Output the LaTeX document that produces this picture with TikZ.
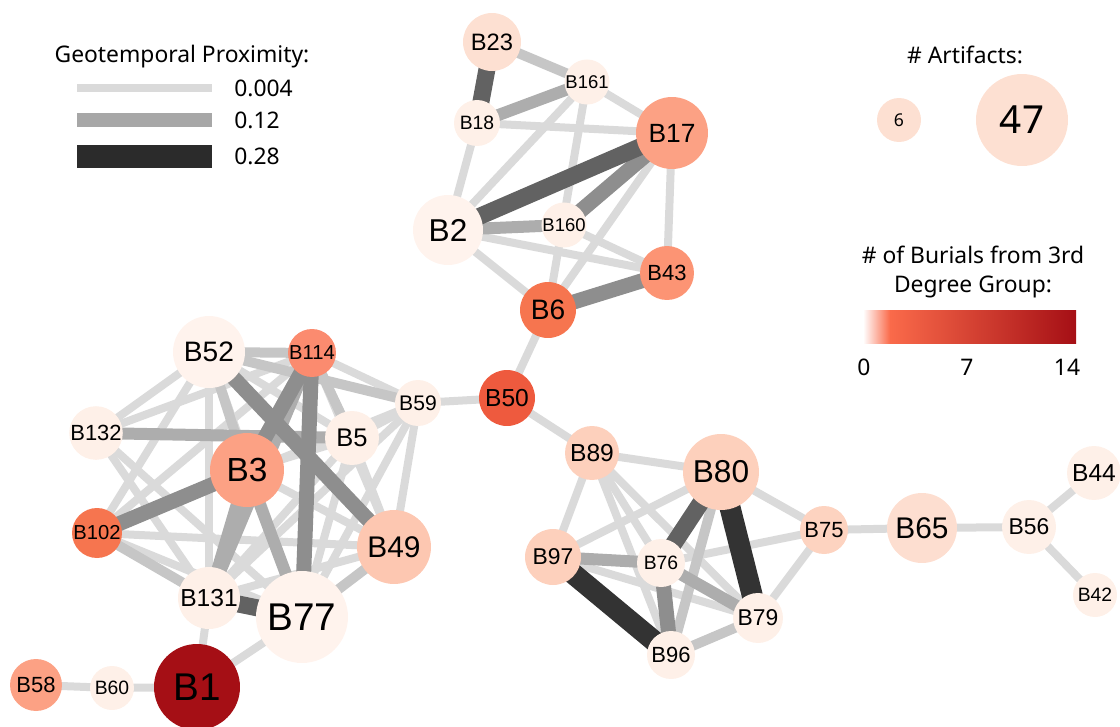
\documentclass[tikz,border=0pt]{standalone}
\usepackage{fontspec}
\setmainfont{Noto Sans}
\newfontfamily\nodefont{Liberation Sans}
\usetikzlibrary{backgrounds}
\definecolor{rA}{HTML}{FFF3ED}
\definecolor{rB}{HTML}{FEF0E8}
\definecolor{rC}{HTML}{FDE0D2}
\definecolor{rD}{HTML}{FDD0BC}
\definecolor{rE}{HTML}{FDC7B1}
\definecolor{rF}{HTML}{FCA184}
\definecolor{rG}{HTML}{FC9474}
\definecolor{rH}{HTML}{FB8B6F}
\definecolor{rI}{HTML}{F6754F}
\definecolor{rJ}{HTML}{EE5A3E}
\definecolor{rK}{HTML}{A50F15}
\definecolor{edA}{HTML}{DADADA}
\definecolor{edB}{HTML}{C6C6C6}
\definecolor{edC}{HTML}{ADADAD}
\definecolor{edD}{HTML}{8E8E8E}
\definecolor{edE}{HTML}{626262}
\definecolor{edF}{HTML}{333333}
\definecolor{gradA}{HTML}{FA6A4A}
\tikzset{
  bur/.style n args={3}{circle,inner sep=0pt,fill=#1,minimum size=#2cm,
    font=\nodefont\fontsize{#3}{#3}\selectfont},
  eA/.style={draw=edA,line width=0.16cm},
  eB/.style={draw=edB,line width=0.2cm},
  eC/.style={draw=edC,line width=0.24cm},
  eD/.style={draw=edD,line width=0.3cm},
  eE/.style={draw=edE,line width=0.34cm},
  eF/.style={draw=edF,line width=0.42cm},
  lab/.style={inner sep=0pt,font=\fontsize{13}{13}\selectfont}
}
\begin{document}
\begin{tikzpicture}[x=0.02cm,y=-0.02cm]
\useasboundingbox (0,0) rectangle (1120,727);
% top group
\node[bur={rC}{1.16}{13.5}] (B23) at (492,42) {B23};
\node[bur={rB}{0.88}{10.5}] (B161) at (587,82) {B161};
\node[bur={rB}{0.92}{11}] (B18) at (477,123) {B18};
\node[bur={rF}{1.44}{15}] (B17) at (672,133) {B17};
\node[bur={rA}{1.40}{18}] (B2) at (448,230) {B2};
\node[bur={rB}{0.88}{10.5}] (B160) at (564,225) {B160};
\node[bur={rG}{1.08}{12.5}] (B43) at (667,273) {B43};
\node[bur={rI}{1.12}{16}] (B6) at (548,310) {B6};
\node[bur={rJ}{1.12}{14}] (B50) at (507,398) {B50};
% left group
\node[bur={rA}{1.44}{16}] (B52) at (209,352) {B52};
\node[bur={rH}{0.96}{11.5}] (B114) at (312,353) {B114};
\node[bur={rB}{0.92}{12}] (B59) at (418,403) {B59};
\node[bur={rB}{1.04}{12.5}] (B132) at (96,433) {B132};
\node[bur={rB}{1.08}{14.5}] (B5) at (352,438) {B5};
\node[bur={rF}{1.48}{19}] (B3) at (247,470) {B3};
\node[bur={rI}{1.00}{11.5}] (B102) at (97,533) {B102};
\node[bur={rE}{1.48}{17}] (B49) at (394,547) {B49};
\node[bur={rB}{1.24}{14}] (B131) at (209,598) {B131};
\node[bur={rA}{1.84}{22}] (B77) at (302,617) {B77};
\node[bur={rK}{1.72}{22}] (B1) at (197,687) {B1};
\node[bur={rB}{0.88}{11}] (B60) at (112,688) {B60};
\node[bur={rF}{1.04}{12.5}] (B58) at (36,685) {B58};
% right group
\node[bur={rD}{1.08}{14}] (B89) at (592,453) {B89};
\node[bur={rD}{1.52}{18}] (B80) at (721,472) {B80};
\node[bur={rD}{1.12}{13}] (B97) at (553,557) {B97};
\node[bur={rB}{0.96}{11}] (B76) at (661,563) {B76};
\node[bur={rB}{1.00}{13}] (B79) at (758,618) {B79};
\node[bur={rB}{0.96}{12.5}] (B96) at (671,655) {B96};
\node[bur={rD!80!rC}{0.96}{12.5}] (B75) at (824,530) {B75};
\node[bur={rC!90!rD}{1.40}{17}] (B65) at (922,528) {B65};
\node[bur={rB}{1.08}{13}] (B56) at (1029,527) {B56};
\node[bur={rB}{1.08}{14}] (B44) at (1094,473) {B44};
\node[bur={rB}{0.88}{11}] (B42) at (1095,595) {B42};
%
\begin{scope}[on background layer]
\foreach \a/\b in {B18/B17,B161/B17,B161/B2,B161/B6,B18/B2,B2/B43,B160/B43,B2/B6,
  B17/B43,B17/B6,B6/B50,B52/B132,B52/B102,B52/B131,B52/B5,B52/B77,B114/B132,
  B114/B102,B114/B59,B114/B49,B132/B131,B132/B77,B102/B49,B102/B77,B102/B59,
  B3/B49,B3/B5,B5/B131,B5/B77,B5/B49,B5/B59,B59/B49,B59/B77,B59/B131,B49/B131,
  B131/B1,B77/B1,B1/B60,B60/B58,B59/B50,B50/B89,B89/B80,B89/B97,B89/B96,B89/B76,
  B89/B79,B80/B97,B80/B75,B97/B79,B75/B76,B75/B79,B75/B65,B65/B56,B56/B44,B56/B42}
  \draw[eA] (\a.center) -- (\b.center);
\foreach \a/\b in {B23/B161,B52/B3,B52/B59,B52/B114,B114/B5,B102/B131,B49/B77,
  B96/B79,B80/B96}
  \draw[eB] (\a.center) -- (\b.center);
\foreach \a/\b in {B18/B161,B2/B160,B132/B5,B3/B131,B3/B77,B114/B131,B97/B76,B76/B79}
  \draw[eC] (\a.center) -- (\b.center);
\foreach \a/\b in {B160/B17,B43/B6,B52/B49,B114/B77,B114/B3,B102/B3,B76/B96}
  \draw[eD] (\a.center) -- (\b.center);
\foreach \a/\b in {B23/B18,B2/B17,B131/B77,B80/B76}
  \draw[eE] (\a.center) -- (\b.center);
\foreach \a/\b in {B80/B79,B97/B96}
  \draw[eF] (\a.center) -- (\b.center);
\end{scope}
% legends
\node[lab,anchor=base] (ttl) at (182,62) {Geotemporal Proximity:};
\draw[draw=edA,line width=0.15cm] (77,88) -- (212,88);
\draw[draw=edC!80!edD,line width=0.28cm] (77,120) -- (212,120);
\draw[draw=edF!85!black,line width=0.46cm] (77,156) -- (212,156);
\node[lab,anchor=west] (p1) at (234,88) {0.004};
\node[lab,anchor=west] (p2) at (234,120) {0.12};
\node[lab,anchor=west] (p3) at (234,156) {0.28};
%
\node[lab,anchor=base] (art) at (965,63) {\# Artifacts:};
\node[circle,inner sep=0pt,fill=rC,minimum size=0.88cm,font=\fontsize{10}{10}\selectfont] (a6) at (899,120) {6};
\node[circle,inner sep=0pt,fill=rC,minimum size=1.84cm,font=\fontsize{22}{22}\selectfont] (a47) at (1022,120) {47};
%
\node[lab,anchor=base] (deg1) at (973,263) {\# of Burials from 3rd};
\node[lab,anchor=base] (deg2) at (973,292) {Degree Group:};
\shade[left color=white,right color=gradA] (863,310) rectangle (890,343);
\shade[left color=gradA,right color=rK] (890,310) rectangle (1076,343);
\node[lab,anchor=base] (g0) at (864,375) {0};
\node[lab,anchor=base] (g7) at (967,375) {7};
\node[lab,anchor=base] (g14) at (1067,375) {14};
\end{tikzpicture}
\end{document}
